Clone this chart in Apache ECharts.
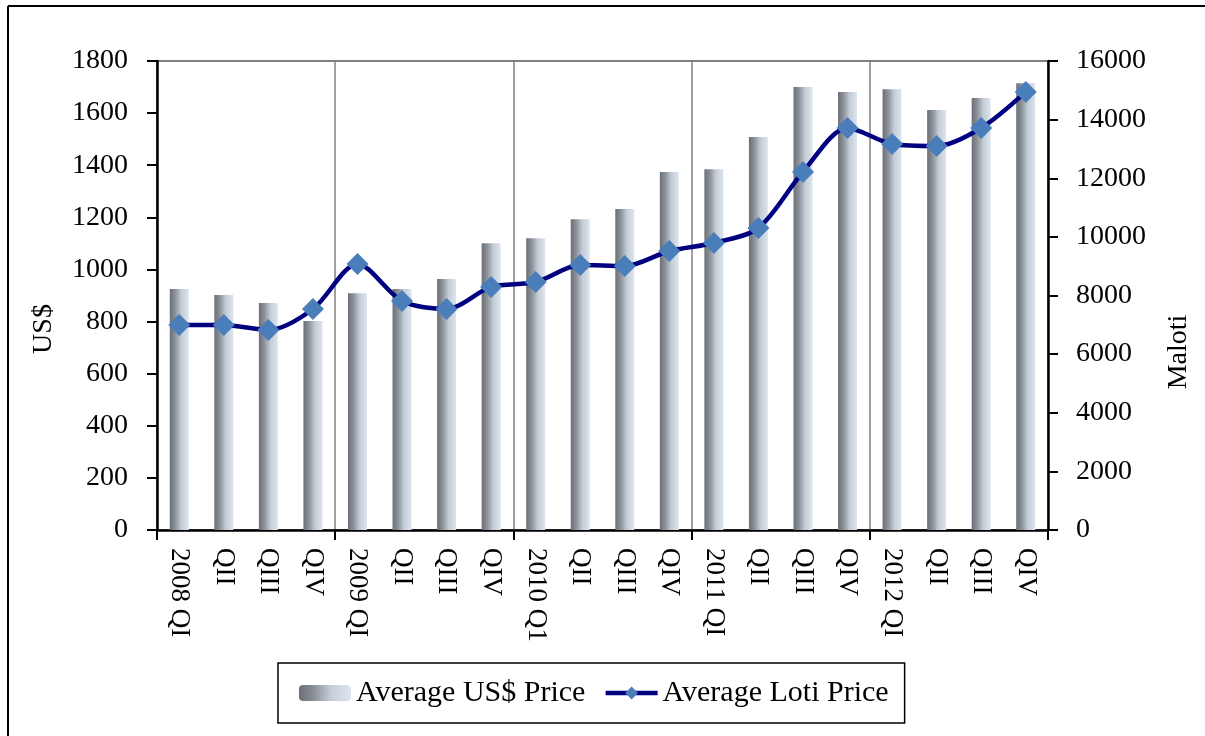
<!DOCTYPE html>
<html>
<head>
<meta charset="utf-8">
<script src="https://cdn.jsdelivr.net/npm/echarts@6/dist/echarts.min.js"></script>
<style>
html,body{margin:0;padding:0;background:#fff;overflow:hidden;}
#chart{width:1205px;height:736px;}
</style>
</head>
<body>
<div id="chart"></div>
<script>
const categories = ['2008 QI','QII','QIII','QIV','2009 QI','QII','QIII','QIV','2010 Q1','QII','QIII','QIV','2011 QI','QII','QIII','QIV','2012 QI','QII','QIII','QIV'];
const usdPrice = [925,902,871,802,909,925,963,1101,1120,1193,1232,1374,1385,1508,1700,1681,1692,1612,1658,1715];
const lotiPrice = [6994,6994,6824,7540,9075,7813,7540,8291,8461,9041,9007,9519,9792,10303,12214,13715,13170,13101,13715,14944];
const leftTicks = {min:0, max:1800, interval:200};
const rightTicks = {min:0, max:16000, interval:2000};
const leftName = 'US$';
const rightName = 'Maloti';

const FONT = 'Liberation Serif';
const chart = echarts.init(document.getElementById('chart'), null, {renderer:'canvas'});
const barGrad = new echarts.graphic.LinearGradient(0,0,1,0,[
  {offset:0, color:'#6b7078'},
  {offset:0.3, color:'#8e939a'},
  {offset:0.6, color:'#c3cbd5'},
  {offset:1, color:'#dde6f0'}
]);
const yearTick = (idx) => idx % 4 === 0;
chart.setOption({
  animation:false,
  backgroundColor:'#fff',
  graphic:[{
    type:'line', z:-10, silent:true,
    shape:{x1:8,y1:6,x2:1300,y2:6},
    style:{stroke:'#000', lineWidth:2}
  },{
    type:'line', z:-10, silent:true,
    shape:{x1:8,y1:6,x2:8,y2:900},
    style:{stroke:'#000', lineWidth:2}
  },{
    type:'text', x:44, y:329, rotation:Math.PI/2, silent:true,
    style:{text:leftName, fontFamily:FONT, fontSize:28, fill:'#000', align:'center', verticalAlign:'middle'}
  },{
    type:'text', x:1179, y:352, rotation:Math.PI/2, silent:true,
    style:{text:rightName, fontFamily:FONT, fontSize:28, fill:'#000', align:'center', verticalAlign:'middle'}
  }],
  grid:{left:157, right:157, top:61, bottom:206, show:true, borderColor:'#808080', borderWidth:2, backgroundColor:'transparent'},
  legend:{
    left:278, top:663,
    padding:[14,16,14,21],
    borderColor:'#000', borderWidth:1.5,
    itemWidth:52, itemHeight:16, itemGap:18,
    lineStyle:{width:4.5},
    textStyle:{fontFamily:FONT, fontSize:30, color:'#000', lineHeight:32},
    data:['Average US$ Price','Average Loti Price']
  },
  xAxis:{
    type:'category', data:categories,
    axisLine:{lineStyle:{color:'#000', width:2.5}},
    axisTick:{show:true, interval:yearTick, length:10, lineStyle:{color:'#000', width:2}},
    splitLine:{show:true, interval:yearTick, lineStyle:{color:'#808080', width:1.5}},
    axisLabel:{interval:0, rotate:-90, margin:18, fontFamily:FONT, fontSize:27, color:'#000'}
  },
  yAxis:[{
    type:'value', min:leftTicks.min, max:leftTicks.max, interval:leftTicks.interval,
    axisLine:{show:true, lineStyle:{color:'#000', width:2.5}},
    axisTick:{show:true, length:10, lineStyle:{color:'#000', width:2}},
    splitLine:{show:false},
    axisLabel:{margin:29, fontFamily:FONT, fontSize:28, color:'#000', formatter:(v)=>String(v)}
  },{
    type:'value', position:'right', min:rightTicks.min, max:rightTicks.max, interval:rightTicks.interval,
    axisLine:{show:true, lineStyle:{color:'#000', width:2.5}},
    axisTick:{show:true, length:10, lineStyle:{color:'#000', width:2}},
    splitLine:{show:false},
    axisLabel:{margin:28, fontFamily:FONT, fontSize:28, color:'#000', formatter:(v)=>String(v)}
  }],
  series:[{
    name:'Average US$ Price', type:'bar', yAxisIndex:0, data:usdPrice,
    barWidth:19, itemStyle:{color:barGrad}, z:2
  },{
    name:'Average Loti Price', type:'line', yAxisIndex:1, data:lotiPrice,
    smooth:0.3, symbol:'diamond', symbolSize:22,
    lineStyle:{color:'#000080', width:4.5},
    itemStyle:{color:'#4a7ebb'}, z:5
  }]
});
</script>
</body>
</html>
